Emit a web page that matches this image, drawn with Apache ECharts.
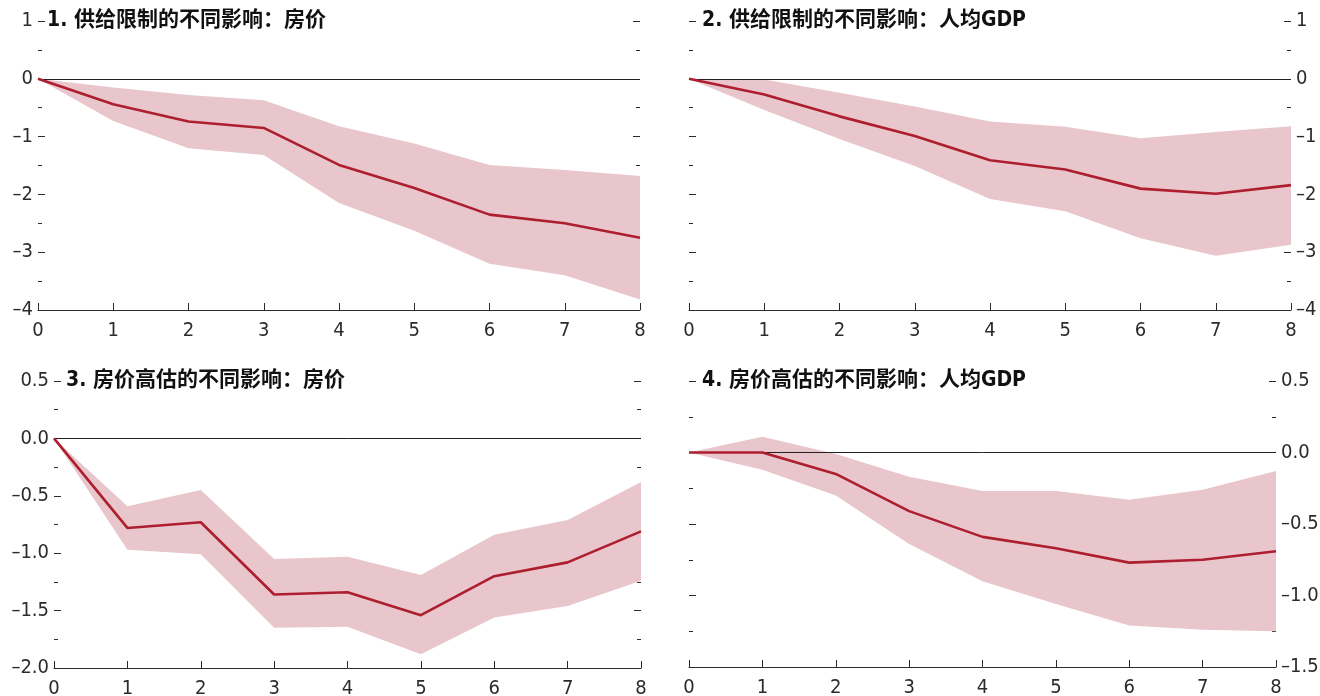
<!DOCTYPE html>
<html>
<head>
<meta charset="utf-8">
<script src="https://cdn.jsdelivr.net/npm/echarts@6/dist/echarts.min.js"></script>
<style>
  html, body { margin: 0; padding: 0; background: #ffffff; }
  #chart { width: 1320px; height: 696px; }
</style>
</head>
<body>
<div id="chart"></div>
<script>
// Horizons (years after the shock)
const horizons = [0, 1, 2, 3, 4, 5, 6, 7, 8];

// Panel titles
const titles = [
  '1. 供给限制的不同影响：房价',
  '2. 供给限制的不同影响：人均GDP',
  '3. 房价高估的不同影响：房价',
  '4. 房价高估的不同影响：人均GDP'
];

// 1. Supply constraints – house prices
const p1Mean  = [0, -0.44, -0.74, -0.85, -1.49, -1.89, -2.35, -2.50, -2.75];
const p1Upper = [0, -0.15, -0.28, -0.37, -0.82, -1.12, -1.49, -1.58, -1.68];
const p1Lower = [0, -0.73, -1.20, -1.32, -2.15, -2.63, -3.20, -3.40, -3.82];

// 2. Supply constraints – GDP per capita
const p2Mean  = [0, -0.27, -0.65, -0.99, -1.41, -1.57, -1.90, -1.99, -1.84];
const p2Upper = [0, -0.01, -0.24, -0.48, -0.74, -0.83, -1.03, -0.92, -0.82];
const p2Lower = [0, -0.54, -1.04, -1.51, -2.08, -2.29, -2.76, -3.06, -2.87];

// 3. House price overvaluation – house prices
const p3Mean  = [0, -0.78, -0.73, -1.36, -1.34, -1.54, -1.20, -1.08, -0.81];
const p3Upper = [0, -0.59, -0.45, -1.05, -1.03, -1.19, -0.84, -0.71, -0.38];
const p3Lower = [0, -0.97, -1.01, -1.65, -1.64, -1.88, -1.56, -1.46, -1.24];

// 4. House price overvaluation – GDP per capita
const p4Mean  = [0, 0.00, -0.15, -0.41, -0.59, -0.67, -0.77, -0.75, -0.69];
const p4Upper = [0, 0.11, -0.01, -0.17, -0.27, -0.27, -0.33, -0.26, -0.13];
const p4Lower = [0, -0.12, -0.30, -0.64, -0.90, -1.06, -1.21, -1.24, -1.25];

// Y-axis ranges and steps
const yMin  = [-4, -4, -2.0, -1.5];
const yMax  = [1, 1, 0.5, 0.5];
const yStep = [1, 1, 0.5, 0.5];
const yDecimals = [0, 0, 1, 1];
// which side carries the tick labels
const labelSide = ['left', 'right', 'left', 'right'];

const panels = [
  { mean: p1Mean, upper: p1Upper, lower: p1Lower },
  { mean: p2Mean, upper: p2Upper, lower: p2Lower },
  { mean: p3Mean, upper: p3Upper, lower: p3Lower },
  { mean: p4Mean, upper: p4Upper, lower: p4Lower }
];

const NUM_FONT = "'DejaVu Sans Condensed', 'Liberation Sans Narrow', sans-serif";
const TITLE_FONT = "'DejaVu Sans Condensed', 'Noto Sans CJK SC', sans-serif";
const INK = '#2b2b2b';
const LINE_RED = '#ad1e2e';
const BAND_PINK = '#e9c6cb';

const grids = [
  { left: 38,  top: 21,  width: 602, height: 289 },
  { left: 689, top: 21,  width: 602, height: 289 },
  { left: 54,  top: 381, width: 587, height: 287 },
  { left: 689, top: 381, width: 587, height: 286 }
].map(g => Object.assign({ outerBoundsMode: 'none', containLabel: false }, g));

const titlePos = [
  { x: 47,  y: 21 },
  { x: 702, y: 21 },
  { x: 66,  y: 381 },
  { x: 702, y: 381 }
];

// negative tick values get a short dash, as in the printed style
function fmt(v, d) {
  const s = Math.abs(v).toFixed(d);
  return v < -1e-9 ? '\u2013' + s : s;
}

const xAxes = [];
const yAxes = [];
const series = [];

panels.forEach((p, k) => {
  xAxes.push({
    type: 'value', gridIndex: k, min: 0, max: 8, interval: 1,
    axisLine: { show: true, onZero: false, lineStyle: { color: INK, width: 1 } },
    axisTick: { show: true, inside: true, length: 7, lineStyle: { color: INK, width: 1 } },
    axisLabel: { margin: 11, fontFamily: NUM_FONT, fontSize: 20, color: INK },
    splitLine: { show: false }
  });
  ['left', 'right'].forEach(side => {
    const showLabel = side === labelSide[k];
    yAxes.push({
      type: 'value', gridIndex: k, position: side,
      min: yMin[k], max: yMax[k], interval: yStep[k],
      axisLine: { show: false, onZero: false },
      axisTick: { show: true, inside: true, length: 7, lineStyle: { color: INK, width: 1 } },
      minorTick: { show: true, splitNumber: 2, length: 4, lineStyle: { color: INK, width: 1 } },
      axisLabel: {
        show: showLabel, margin: 5, fontFamily: NUM_FONT, fontSize: 20, color: INK,
        formatter: v => fmt(v, yDecimals[k])
      },
      splitLine: { show: false },
      minorSplitLine: { show: false }
    });
  });

  const band = horizons.map((h, i) => [h, p.lower[i], p.upper[i]]);
  series.push({
    type: 'custom', xAxisIndex: k, yAxisIndex: 2 * k, z: 1, silent: true,
    data: band,
    renderItem: (params, api) => {
      if (params.dataIndex !== 0) return null;
      const pts = [];
      for (let i = 0; i < band.length; i++) pts.push(api.coord([band[i][0], band[i][2]]));
      for (let i = band.length - 1; i >= 0; i--) pts.push(api.coord([band[i][0], band[i][1]]));
      return { type: 'polygon', shape: { points: pts }, style: { fill: BAND_PINK } };
    },
    markLine: {
      silent: true, symbol: 'none', label: { show: false },
      lineStyle: { color: '#222', width: 1, type: 'solid' },
      data: [{ yAxis: 0 }]
    }
  });
  series.push({
    type: 'line', xAxisIndex: k, yAxisIndex: 2 * k, z: 10,
    data: horizons.map((h, i) => [h, p.mean[i]]),
    symbol: 'none', silent: true,
    lineStyle: { color: LINE_RED, width: 2.6 }
  });
});

const graphics = titles.map((t, k) => ({
  type: 'text', x: titlePos[k].x, y: titlePos[k].y,
  style: {
    text: t, fontFamily: TITLE_FONT, fontSize: 21, fontWeight: 'bold',
    fill: '#111', verticalAlign: 'middle', align: 'left'
  }
}));

const chart = echarts.init(document.getElementById('chart'), null, { renderer: 'canvas' });
chart.setOption({
  animation: false,
  backgroundColor: '#ffffff',
  grid: grids,
  xAxis: xAxes,
  yAxis: yAxes,
  series: series,
  graphic: graphics
});
</script>
</body>
</html>
